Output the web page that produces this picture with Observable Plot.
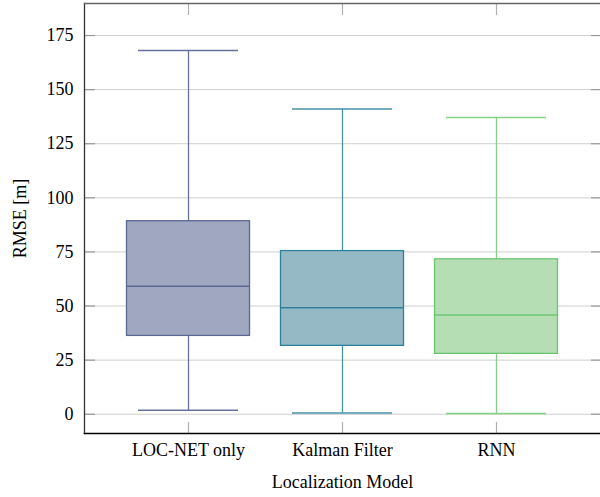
<!DOCTYPE html>
<html>
<head>
<meta charset="utf-8">
<script src="https://cdn.jsdelivr.net/npm/d3@7"></script>
<script src="https://cdn.jsdelivr.net/npm/@observablehq/plot@0.6"></script>
<style>
  html, body { margin: 0; padding: 0; background: #fff; }
  #chart svg { display: block; }
</style>
</head>
<body>
<div id="chart"></div>
<script>
// Data
const models = ["LOC-NET only", "Kalman Filter", "RNN"];
const whiskerLow = [1.8, 0.6, 0.3];
const q1 = [36.2, 31.6, 27.9];
const median = [59.2, 49.2, 45.9];
const q3 = [89.2, 75.4, 71.6];
const whiskerHigh = [168.1, 141.0, 137.1];
const yTicks = [0, 25, 50, 75, 100, 125, 150, 175];

// Styles
const fills = ["#a0a8c1", "#95bac6", "#b5deb5"];
const strokes = ["#5b6893", "#2e8199", "#6cc470"];
const whiskerStrokes = ["#66729c", "#4592a8", "#86cf88"];

const rows = models.map((m, i) => ({
  model: m, low: whiskerLow[i], q1: q1[i], med: median[i], q3: q3[i], high: whiskerHigh[i],
  fill: fills[i], stroke: strokes[i], wstroke: whiskerStrokes[i]
}));

const font = "'Liberation Serif', 'Times New Roman', serif";
const fs = 18;

const chart = Plot.plot({
  width: 600,
  height: 497,
  marginLeft: 84,
  marginRight: 0,
  marginTop: 3,
  marginBottom: 64,
  style: { fontFamily: font, fontSize: fs + "px", background: "#fff", color: "#000" },
  x: { type: "band", domain: models, padding: 0.35, axis: null, label: null },
  y: { domain: [-8.9, 189.8], axis: null, label: null },
  marks: [
    // grid
    Plot.gridY(yTicks, { stroke: "#cfcfcf", strokeOpacity: 1, strokeWidth: 1 }),
    // inward ticks
    Plot.axisY(yTicks, { anchor: "left", tickSize: 11, dx: 11, text: null, label: null, stroke: "#999", strokeWidth: 1.2 }),
    Plot.axisY(yTicks, { anchor: "right", tickSize: 10, dx: -10, text: null, label: null, stroke: "#999", strokeWidth: 1.2 }),
    Plot.axisX(models, { anchor: "bottom", tickSize: 11, dy: -11, text: null, label: null, stroke: "#b0b0b0", strokeWidth: 1.2 }),
    Plot.axisX(models, { anchor: "top", tickSize: 11, dy: 11, text: null, label: null, stroke: "#b0b0b0", strokeWidth: 1.2 }),
    // tick labels
    Plot.axisY(yTicks, { anchor: "left", tickSize: 0, tickPadding: 11, label: null, fontSize: fs, fill: "#000" }),
    Plot.axisX(models, { anchor: "bottom", tickSize: 0, tickPadding: 10, label: null, fontSize: fs, fill: "#000" }),
    // whiskers
    Plot.ruleX(rows, { x: "model", y1: "low", y2: "q1", stroke: "wstroke", strokeWidth: 1.3 }),
    Plot.ruleX(rows, { x: "model", y1: "q3", y2: "high", stroke: "wstroke", strokeWidth: 1.3 }),
    Plot.tickY(rows, { x: "model", y: "low", stroke: "wstroke", strokeWidth: 1.5 }),
    Plot.tickY(rows, { x: "model", y: "high", stroke: "wstroke", strokeWidth: 1.5 }),
    // boxes
    Plot.barY(rows, { x: "model", y1: "q1", y2: "q3", fill: "fill", stroke: "stroke", strokeWidth: 1.3, insetLeft: -11.5, insetRight: -11.5 }),
    Plot.tickY(rows, { x: "model", y: "med", stroke: "stroke", strokeWidth: 1.5, insetLeft: -11.5, insetRight: -11.5 }),
    // frame
    Plot.frame({ anchor: "left", stroke: "#333", strokeWidth: 1.3 }),
    Plot.frame({ anchor: "top", stroke: "#666", strokeWidth: 1.3 }),
    Plot.frame({ anchor: "bottom", stroke: "#000", strokeWidth: 1.6 }),
    // axis titles
    Plot.text(["RMSE [m]"], { frameAnchor: "left", dx: -64, rotate: -90, textAnchor: "middle", lineAnchor: "middle", fontSize: fs, fill: "#000" }),
    Plot.text(["Localization Model"], { frameAnchor: "bottom", dy: 49, textAnchor: "middle", lineAnchor: "middle", fontSize: fs, fill: "#000" })
  ]
});
document.getElementById("chart").appendChild(chart);
</script>
</body>
</html>
